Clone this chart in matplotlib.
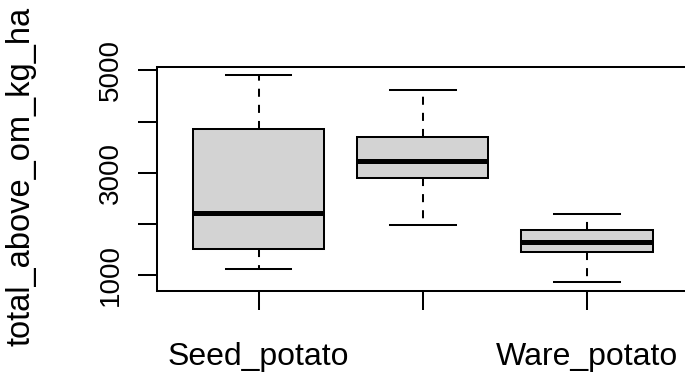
import matplotlib
matplotlib.use("Agg")
import matplotlib.pyplot as plt

# box statistics (kg/ha)
CATEGORIES = ["Seed_potato", "", "Ware_potato"]
WHIS_LO = [1130, 1992, 864]
Q1 = [1506, 2907, 1455]
MEDIAN = [2220, 3226, 1650]
Q3 = [3848, 3693, 1889]
WHIS_HI = [4910, 4626, 2200]
Y_TICKS = [1000, 2000, 3000, 4000, 5000]
Y_TICK_LABELS = ["1000", "", "3000", "", "5000"]

plt.rcParams["font.family"] = ["Liberation Sans", "DejaVu Sans"]

W, H, DPI = 685, 372, 100
fig = plt.figure(figsize=(W / DPI, H / DPI), dpi=DPI)
# plot region runs off the right edge of the image, as in the reference
ax = fig.add_axes([156.7 / W, 1 - 290.7 / H, (688.7 - 156.7) / W, (290.7 - 66.7) / H])

stats = []
for i in range(len(CATEGORIES)):
    stats.append(dict(med=MEDIAN[i], q1=Q1[i], q3=Q3[i],
                      whislo=WHIS_LO[i], whishi=WHIS_HI[i], fliers=[]))

lw = 1.45
ax.bxp(stats, positions=[1, 2, 3], widths=0.8, capwidths=0.4,
       patch_artist=True, showfliers=False,
       boxprops=dict(facecolor="#d3d3d3", edgecolor="black", linewidth=lw),
       medianprops=dict(color="black", linewidth=3.6, solid_capstyle="butt"),
       whiskerprops=dict(color="black", linewidth=lw, linestyle=(0, (4, 4))),
       capprops=dict(color="black", linewidth=lw))

lo = min(WHIS_LO)
hi = max(WHIS_HI)
pad = 0.04 * (hi - lo)
ax.set_ylim(lo - pad, hi + pad)
ax.set_xlim(0.38, 3.62)

ax.set_xticks([1, 2, 3])
ax.set_xticklabels(CATEGORIES, fontsize=23)
ax.set_yticks(Y_TICKS)
ax.set_yticklabels(Y_TICK_LABELS, fontsize=20, rotation=90, va="center")
ax.tick_params(axis="both", length=13.7, width=lw, direction="out", color="black")
ax.tick_params(axis="x", pad=23)
ax.tick_params(axis="y", pad=10)
for s in ax.spines.values():
    s.set_linewidth(lw)

ax.set_ylabel("total_above_om_kg_ha", fontsize=23.5)
ax.yaxis.set_label_coords(-0.225, 0.51)

fig.savefig("out.png", dpi=DPI)
